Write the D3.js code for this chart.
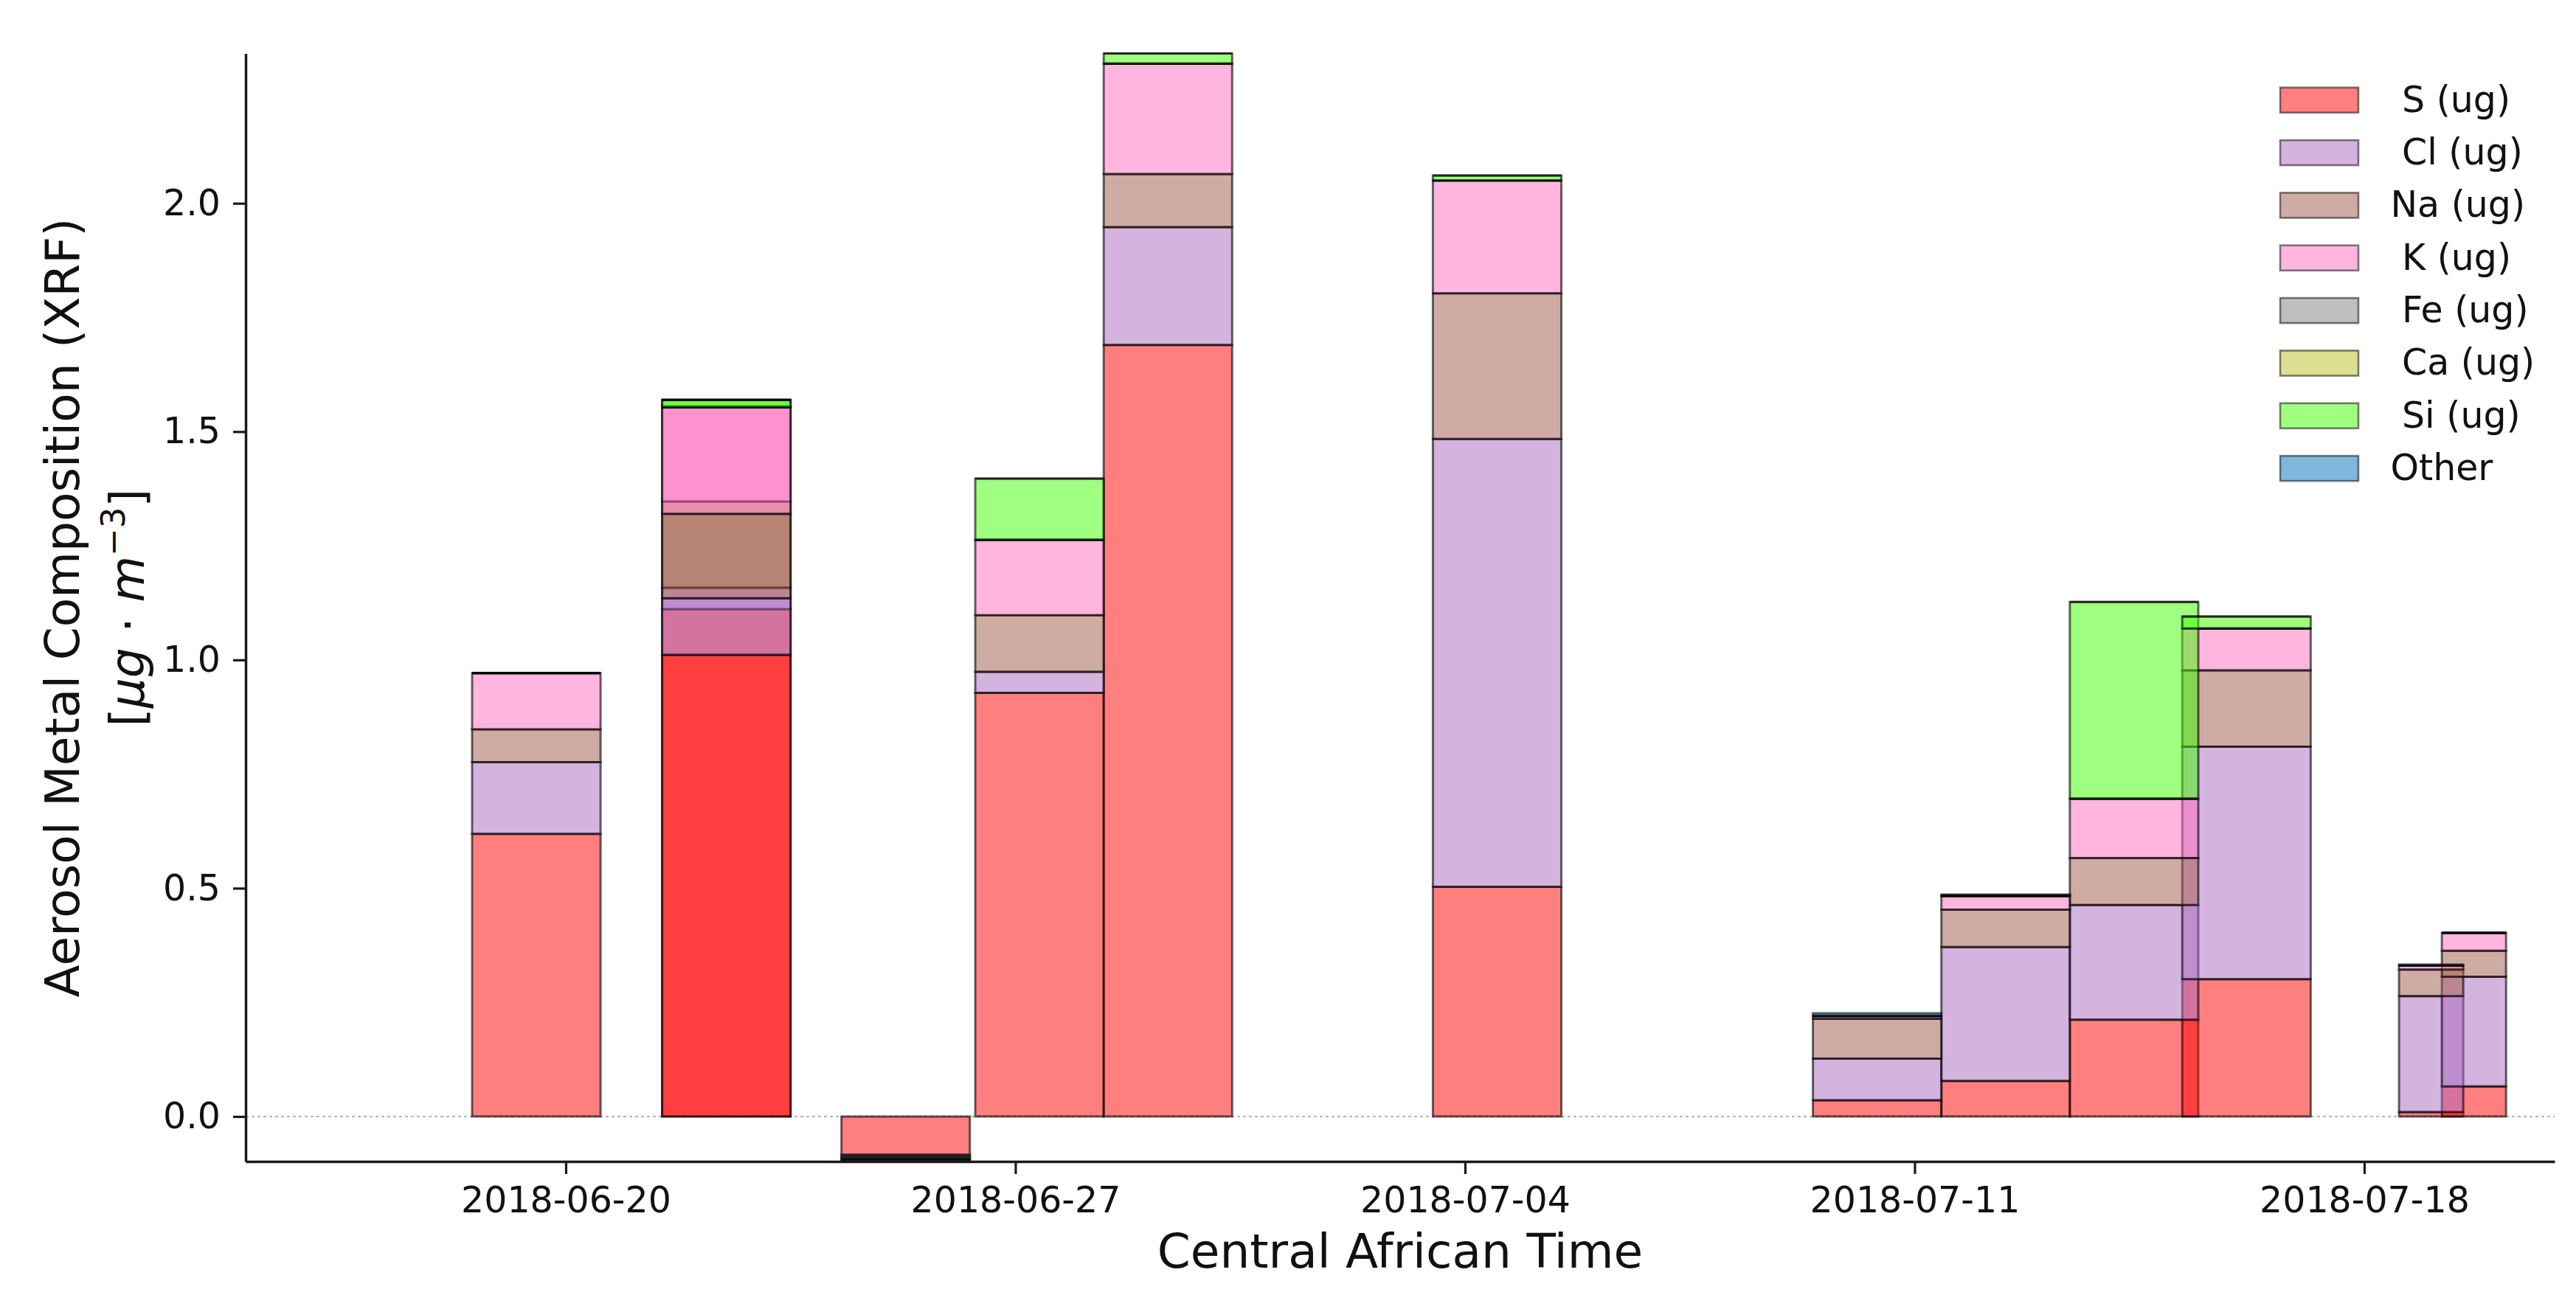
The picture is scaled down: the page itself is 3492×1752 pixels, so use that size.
<!DOCTYPE html>
<html>
<head>
<meta charset="utf-8">
<script src="https://cdn.jsdelivr.net/npm/d3@7"></script>
<style>
  html, body { margin: 0; padding: 0; background: #ffffff; }
  svg { display: block; font-family: "DejaVu Sans", sans-serif; }
</style>
</head>
<body>
<svg id="chart" width="3492" height="1752"></svg>
<script>
// ---------------- data ----------------
const sampleStart = ["2018-06-18T13:00Z","2018-06-21T12:00Z","2018-06-21T12:00Z","2018-06-24T07:00Z",
  "2018-06-26T09:00Z","2018-06-28T09:00Z","2018-07-03T12:00Z","2018-07-09T10:00Z","2018-07-11T10:00Z",
  "2018-07-13T10:00Z","2018-07-15T04:00Z","2018-07-18T13:00Z","2018-07-19T05:00Z"];
const sampleDays = [2,2,2,2,2,2,2,2,2,2,2,1,1];

const seriesNames = ["S (ug)","Cl (ug)","Na (ug)","K (ug)","Fe (ug)","Ca (ug)","Si (ug)","Other"];
const legendLabels = [" S (ug)"," Cl (ug)","Na (ug)"," K (ug)"," Fe (ug)"," Ca (ug)"," Si (ug)","Other"];
const seriesColors = ["#ff0000","#a967bf","#9f5947","#ff6dbd","#808080","#bcbd22","#40ff00","#0072b9"];

const S_vals  = [0.619, 1.111, 1.011, -0.084, 0.928, 1.690, 0.503, 0.0355, 0.078, 0.212, 0.301, 0.0097, 0.066];
const Cl_vals = [0.157, 0.047, 0.124, -0.004, 0.046, 0.258, 0.981, 0.0915, 0.293, 0.251, 0.509, 0.254, 0.240];
const Na_vals = [0.072, 0.189, 0.185, -0.004, 0.124, 0.116, 0.319, 0.087, 0.082, 0.103, 0.167, 0.058, 0.057];
const K_vals  = [0.123, 0.208, 0.233, -0.003, 0.165, 0.242, 0.247, 0.006, 0.029, 0.130, 0.092, 0.009, 0.039];
const Fe_vals = [0, 0, 0, 0, 0, 0, 0, 0, 0.002, 0, 0, 0, 0];
const Ca_vals = [0, 0, 0, 0, 0, 0, 0, 0, 0, 0, 0, 0, 0];
const Si_vals = [0, 0.015, 0.016, -0.003, 0.134, 0.022, 0.011, 0, 0, 0.431, 0.026, 0, 0];
const Other_vals = [0, 0, 0, 0, 0, 0, 0, 0.006, 0.002, 0, 0, 0.002, 0];
const seriesValues = [S_vals, Cl_vals, Na_vals, K_vals, Fe_vals, Ca_vals, Si_vals, Other_vals];

const xTickDates = ["2018-06-20","2018-06-27","2018-07-04","2018-07-11","2018-07-18"];
const yTicks = [0.0, 0.5, 1.0, 1.5, 2.0];
const xDomain = ["2018-06-15T00:23Z", "2018-07-20T23:08Z"];
const yDomain = [-0.0985, 2.328];

// ---------------- layout ----------------
const L = 333, R = 3463, T = 72.6, B = 1575;
const svg = d3.select("#chart");
svg.append("rect").attr("width", 3492).attr("height", 1752).attr("fill", "#fff");

const x = d3.scaleUtc().domain(xDomain.map(d => new Date(d))).range([L, R]);
const y = d3.scaleLinear().domain(yDomain).range([B, T]);

svg.append("defs").append("clipPath").attr("id", "plotclip")
  .append("rect").attr("x", L).attr("y", T - 5).attr("width", R - L).attr("height", B - T + 5);

// zero dashed line
svg.append("line")
  .attr("x1", L).attr("x2", R).attr("y1", y(0)).attr("y2", y(0))
  .attr("stroke", "#b4b4b4").attr("stroke-width", 2).attr("stroke-dasharray", "4,4");

// stacked bars (drawn series by series, like matplotlib)
const cum = sampleStart.map(() => 0);
const plot = svg.append("g").attr("clip-path", "url(#plotclip)");
seriesValues.forEach((vals, si) => {
  const segs = vals.map((v, i) => {
    const b0 = cum[i];
    cum[i] = b0 + v;
    const t0 = new Date(sampleStart[i]);
    const t1 = new Date(t0.getTime() + sampleDays[i] * 86400000);
    return { x0: x(t0), x1: x(t1), y0: y(b0), y1: y(b0 + v) };
  });
  plot.append("g").selectAll("path").data(segs).join("path")
    .attr("d", d => {
      const p = d3.path();
      p.moveTo(d.x0, d.y0); p.lineTo(d.x1, d.y0); p.lineTo(d.x1, d.y1); p.lineTo(d.x0, d.y1); p.closePath();
      return p.toString();
    })
    .attr("fill", seriesColors[si]).attr("fill-opacity", 0.5)
    .attr("stroke", "#000").attr("stroke-opacity", 0.6).attr("stroke-width", 3);
});

// axes
const xAxis = d3.axisBottom(x)
  .tickValues(xTickDates.map(d => new Date(d + "T00:00Z")))
  .tickFormat(d3.utcFormat("%Y-%m-%d"))
  .tickSize(17).tickSizeOuter(0).tickPadding(17);
const yAxis = d3.axisLeft(y).tickValues(yTicks).tickFormat(d3.format(".1f"))
  .tickSize(17).tickSizeOuter(0).tickPadding(17);

const gx = svg.append("g").attr("transform", `translate(0,${B})`).call(xAxis);
const gy = svg.append("g").attr("transform", `translate(${L},0)`).call(yAxis);
[gx, gy].forEach(g => {
  g.select(".domain").attr("stroke", "#1a1a1a").attr("stroke-width", 3.5);
  g.selectAll(".tick line").attr("stroke", "#1a1a1a").attr("stroke-width", 3.2);
  g.selectAll(".tick text").attr("font-family", "DejaVu Sans").attr("font-size", 49).attr("fill", "#111");
});

// axis titles
svg.append("text")
  .attr("x", (L + R) / 2).attr("y", 1719)
  .attr("text-anchor", "middle").attr("font-size", 64.5).attr("fill", "#111")
  .text("Central African Time");

svg.append("text")
  .attr("transform", `translate(107,824) rotate(-90)`)
  .attr("text-anchor", "middle").attr("font-size", 64.5).attr("fill", "#111")
  .text("Aerosol Metal Composition (XRF)");

const yl2 = svg.append("text")
  .attr("transform", `translate(195,824) rotate(-90)`)
  .attr("text-anchor", "middle").attr("font-size", 64.5).attr("fill", "#111");
yl2.append("tspan").text("[");
yl2.append("tspan").attr("font-style", "italic").text("μg");
yl2.append("tspan").text(" · ");
yl2.append("tspan").attr("font-style", "italic").text("m");
yl2.append("tspan").attr("font-size", 45).attr("dy", -26).text("−3");
yl2.append("tspan").attr("dy", 26).text("]");

// legend
const lg = svg.append("g");
seriesNames.forEach((name, i) => {
  const cy = 135.7 + i * 71.35;
  lg.append("rect")
    .attr("x", 3091).attr("y", cy - 17).attr("width", 106).attr("height", 34)
    .attr("fill", seriesColors[i]).attr("fill-opacity", 0.5)
    .attr("stroke", "#000").attr("stroke-opacity", 0.5).attr("stroke-width", 2.6);
  lg.append("text")
    .attr("x", 3240.4).attr("y", cy + 16)
    .attr("font-size", 49).attr("fill", "#111")
    .style("white-space", "pre")
    .text(legendLabels[i]);
});
</script>
</body>
</html>
